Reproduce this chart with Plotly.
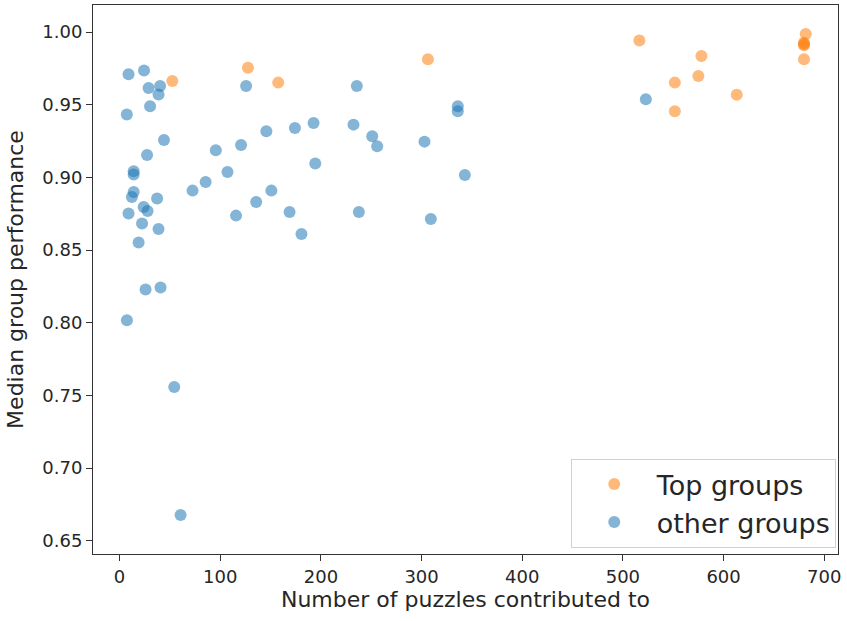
import plotly.graph_objects as go

top_x = [52.4, 127.5, 157.6, 306.3, 516.4, 578, 575, 551.6, 551.6, 613.1, 681.6, 679.9, 679.9, 679.9, 679.9]
top_y = [0.9663, 0.9755, 0.9652, 0.9812, 0.9941, 0.9835, 0.9697, 0.9652, 0.9455, 0.9569, 0.9986, 0.9927, 0.9909, 0.9918, 0.9812]

other_x = [8.9, 24.3, 28.8, 40.3, 38.7, 30.3, 7.2, 44.1, 27.3, 14, 14, 14, 12.2, 37.3, 8.9,
           23.9, 27.8, 22.3, 38.7, 18.9, 125.7, 235.7, 72.5, 85.5, 95.6, 107.2, 120.7, 115.7, 135.7, 145.8,
           150.8, 174.2, 192.7, 194.4, 168.9, 180.7, 232.4, 251, 255.9, 237.7,
           25.8, 40.7, 7.3, 54.3, 60.6, 336, 336, 302.9, 343, 309.2, 522.8]
other_y = [0.9709, 0.9735, 0.9615, 0.9629, 0.957, 0.9489, 0.9432, 0.9257, 0.9154, 0.9042, 0.902, 0.890, 0.8865, 0.8854, 0.8751,
           0.8796, 0.8769, 0.8682, 0.8645, 0.8552, 0.9629, 0.9629, 0.8909, 0.8968, 0.9186, 0.9037, 0.9223, 0.8737, 0.8831, 0.9317,
           0.8909, 0.934, 0.9374, 0.9095, 0.8762, 0.8611, 0.9363, 0.9283, 0.9214, 0.8762,
           0.8228, 0.8242, 0.8017, 0.7558, 0.6678, 0.9489, 0.9455, 0.9246, 0.9017, 0.8714, 0.9537]

x_ticks = [0, 100, 200, 300, 400, 500, 600, 700]
y_ticks = [0.65, 0.70, 0.75, 0.80, 0.85, 0.90, 0.95, 1.00]

fig = go.Figure()
fig.add_trace(go.Scatter(x=top_x, y=top_y, mode="markers", name="Top groups",
                         marker=dict(color="#ff7f0e", size=12, opacity=0.55, line=dict(width=0))))
fig.add_trace(go.Scatter(x=other_x, y=other_y, mode="markers", name="other groups",
                         marker=dict(color="#1f77b4", size=12, opacity=0.55, line=dict(width=0))))

axis_common = dict(showgrid=False, zeroline=False, showline=True, linecolor="#333333", linewidth=1,
                   mirror=True, ticks="outside", ticklen=6, tickcolor="#333333", automargin=False,
                   tickfont=dict(family="DejaVu Sans", size=18, color="#262626"))

fig.update_xaxes(range=[-26.4, 713.7], tickvals=x_ticks, ticktext=[str(v) for v in x_ticks],
                 title=dict(text="Number of puzzles contributed to",
                            font=dict(family="DejaVu Sans", size=22, color="#262626"), standoff=6),
                 **axis_common)
fig.update_yaxes(range=[0.6409, 1.0186], tickvals=y_ticks, ticktext=[f"{v:.2f}" for v in y_ticks],
                 title=dict(text="Median group performance",
                            font=dict(family="DejaVu Sans", size=22, color="#262626"), standoff=12),
                 **axis_common)

fig.update_layout(
    width=847, height=621,
    margin=dict(l=93, r=9, t=5, b=67),
    paper_bgcolor="white", plot_bgcolor="white",
    showlegend=True,
    legend=dict(x=0.997, y=0.011, xanchor="right", yanchor="bottom",
                bgcolor="rgba(255,255,255,0.8)", bordercolor="#d0d0d0", borderwidth=1,
                font=dict(family="DejaVu Sans", size=27, color="#262626"),
                itemwidth=75),
)

fig.write_html("out.html", config={"displayModeBar": False},
               post_script="document.body.style.margin='0px';")
